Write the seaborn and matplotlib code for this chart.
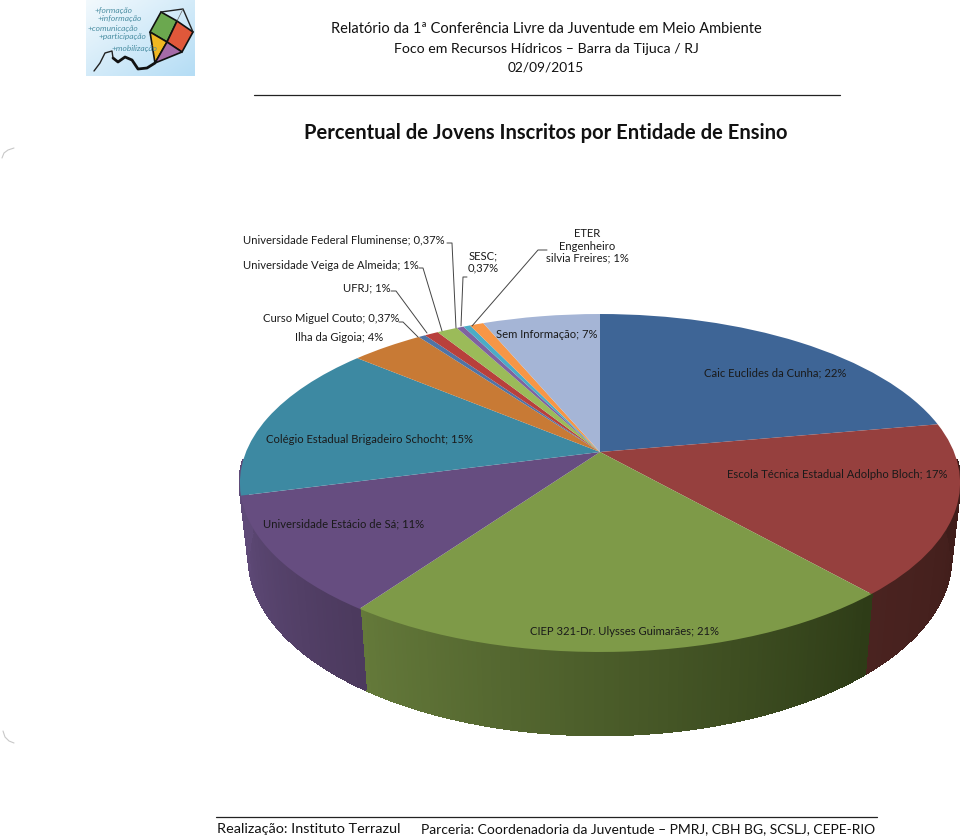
import numpy as np
import matplotlib
matplotlib.use('Agg')
import matplotlib.pyplot as plt
from matplotlib.transforms import Transform
import seaborn as sns

# slices, clockwise from 12 o'clock (labels are rounded, the angles are not)
values = [22.2, 16.3, 21.3, 11.1, 15.2, 3.9, 0.37, 0.74, 1.11, 0.37, 0.37, 0.74, 6.3]
top_colors = ['#3E6596', '#96403E', '#7E9A48', '#664D80', '#3D89A2', '#C87A35', '#4F74A6',
              '#B8403C', '#9BBB59', '#7F62A0', '#4BACC6', '#F79646', '#A5B5D6']
# wall shading, left end and right end of each slice
wall_left = ['#2A4465', '#4A2320', '#64793A', '#5F4A78', '#5F4A78', '#87522A', '#35507A',
             '#7A2B28', '#68803B', '#554270', '#327486', '#A8662F', '#6F7C94']
wall_right = ['#2A4465', '#3C1B18', '#2E3C17', '#4C3A5E', '#5F4A78', '#87522A', '#35507A',
              '#7A2B28', '#68803B', '#554270', '#327486', '#A8662F', '#6F7C94']

labels = ['Caic Euclides da Cunha; 22%', 'Escola Técnica Estadual Adolpho Bloch; 17%',
          'CIEP 321-Dr. Ulysses Guimarães; 21%', 'Universidade Estácio de Sá; 11%',
          'Colégio Estadual Brigadeiro Schocht; 15%', 'Ilha da Gigoia; 4%',
          'Curso Miguel Couto; 0,37%', 'UFRJ; 1%', 'Universidade Veiga de Almeida; 1%',
          'Universidade Federal Fluminense; 0,37%', 'SESC;\n0,37%',
          'ETER\nEngenheiro\nsilvia Freires; 1%', 'Sem Informação; 7%']

header = ['Relatório da 1ª Conferência Livre da Juventude em Meio Ambiente',
          'Foco em Recursos Hídricos – Barra da Tijuca / RJ', '02/09/2015']
title = 'Percentual de Jovens Inscritos por Entidade de Ensino'
footer_left = 'Realização: Instituto Terrazul'
footer_right = 'Parceria: Coordenadoria da Juventude – PMRJ, CBH BG, SCSLJ, CEPE-RIO'
logo_words = ['+formação', '+informação', '+comunicação', '+participação', '+mobilização']


class Tilt(Transform):
    # unit circle -> page pixels, pie seen in perspective
    input_dims = 2
    output_dims = 2

    def __init__(self, drop=0.0):
        super().__init__()
        self.drop = drop

    def transform_non_affine(self, xy):
        xy = np.asarray(xy, dtype=float)
        d = 1 + 0.1834 * xy[:, 1]
        xs = 354 * xy[:, 0] / d
        vs = 163.3 * xy[:, 1] / d
        if self.drop:
            xs = xs * 0.975
            vs = vs * 1.05 - self.drop
        return np.column_stack([600 + xs, 452 - vs])


sns.set_theme(style='white')
plt.rcParams['font.family'] = ['Lato', 'DejaVu Sans']

fig = plt.figure(figsize=(9.6, 8.38), dpi=100)
ax = fig.add_axes([0, 0, 1, 1])

wedges, _ = ax.pie(values, colors=top_colors, startangle=90, counterclock=False, radius=1,
                   wedgeprops={'linewidth': 0})
ax.set_aspect('auto')

# side wall, cut in thin quads so that it can carry a gradient
top_edge = Tilt()
bottom_edge = Tilt(drop=73)
for w, c_left, c_right in zip(wedges, wall_left, wall_right):
    n = max(int((w.theta2 - w.theta1) * 1.5), 2)
    shades = sns.blend_palette([c_left, c_right], n)
    t = np.radians(np.linspace(w.theta1, w.theta2, n + 1))
    for i in range(n):
        mid = (t[i] + t[i + 1]) / 2
        if np.sin(mid) > -0.05:
            continue  # back of the pie, hidden by the top anyway
        seg = np.column_stack([np.cos(t[i:i + 2]), np.sin(t[i:i + 2])])
        quad = np.vstack([top_edge.transform(seg), bottom_edge.transform(seg)[::-1]])
        ax.fill(quad[:, 0], quad[:, 1], color=shades[i], lw=1.2, antialiased=False, zorder=1)

# top surface
for w in wedges:
    w.set_transform(Tilt() + ax.transData)
    w.set_zorder(2)

# logo
grad = np.linspace(0, 1, 60)[None, :] * 0.5 + np.linspace(0, 1, 40)[:, None] * 0.5
ax.imshow(grad, extent=(86, 195, 76, 0), cmap=sns.blend_palette(['#F2F9FD', '#B5DDF5'], as_cmap=True),
          aspect='auto', zorder=1)
kite = [([(161, 12), (177, 21), (167, 42), (150, 32)], '#6BA84F'),
        ([(177, 21), (193, 32), (182, 52), (167, 42)], '#E0583A'),
        ([(150, 32), (167, 42), (155, 63)], '#EFB722'),
        ([(167, 42), (182, 52), (155, 63)], '#A56BA8')]
for pts, col in kite:
    ax.fill(*zip(*pts), facecolor=col, edgecolor='#111111', lw=1.2, zorder=2)
ax.plot([161, 183, 193], [12, 9, 32], color='#222222', lw=1.0, zorder=2)
ax.plot([177, 183], [21, 9], color='#666666', lw=0.5, zorder=2)
ax.plot([155, 147, 138, 132, 125, 118, 113],
        [63, 68, 69, 60, 57, 62, 58],
        color='#111111', lw=2.0, solid_capstyle='round', solid_joinstyle='round', zorder=2)
ax.plot([113, 112, 105, 100, 94], [58, 51, 53, 63, 71], color='#222222', lw=1.0,
        solid_joinstyle='round', zorder=2)
for word, x, y in zip(logo_words, [95, 98, 88, 99, 112], [10, 19, 28, 36, 49]):
    ax.text(x, y, word, fontsize=6, style='italic', color='#4C8FA3', va='center', zorder=3)

# page header and footer
for line, y, size in zip(header, [29, 49, 68], [10.55, 10.2, 9.9]):
    ax.text(546, y, line, ha='center', va='center', fontsize=size, color='#111111', zorder=5)
ax.text(546, 133, title, ha='center', va='center', fontsize=14.5, fontweight='bold', color='#111111')
ax.plot([254, 840], [95, 95], color='#222222', lw=0.9)
ax.plot([216, 877], [817, 817], color='#222222', lw=0.9)
ax.text(217, 829, footer_left, va='center', fontsize=10.4, color='#111111')
ax.text(421, 829, footer_right, va='center', fontsize=10, color='#111111')

# slice labels
label_pos = [(775, 373), (837, 474), (624, 631), (344, 524), (370, 439), (339, 337),
             (331, 318), (367, 288), (331, 265), (344, 240), (483, 262), (587, 246), (547, 334)]
for text, (x, y) in zip(labels, label_pos):
    ax.text(x, y, text, ha='center', va='center', fontsize=8.1, color='#1a1a1a',
            linespacing=1.15, zorder=6)

# leader lines
leaders = [[(447, 243), (452, 243), (456, 328)], [(419, 268), (423, 268), (442, 331)],
           [(391, 291), (396, 291), (427, 333)], [(399, 322), (403, 322), (418, 337)],
           [(467, 277), (463, 277), (461, 326)], [(547, 250), (538, 250), (472, 326)]]
for pts in leaders:
    ax.plot(*zip(*pts), color='#444444', lw=0.7, zorder=6)

# scanner marks on the page edge
ax.plot([2, 4, 8, 14], [158, 153, 150, 148], color='#C8C8C8', lw=0.8)
ax.plot([3, 5, 9, 14], [731, 737, 741, 743], color='#C8C8C8', lw=0.8)

ax.set_xlim(0, 960)
ax.set_ylim(838, 0)
ax.axis('off')

plt.savefig('out.png', dpi=100)
plt.close()
